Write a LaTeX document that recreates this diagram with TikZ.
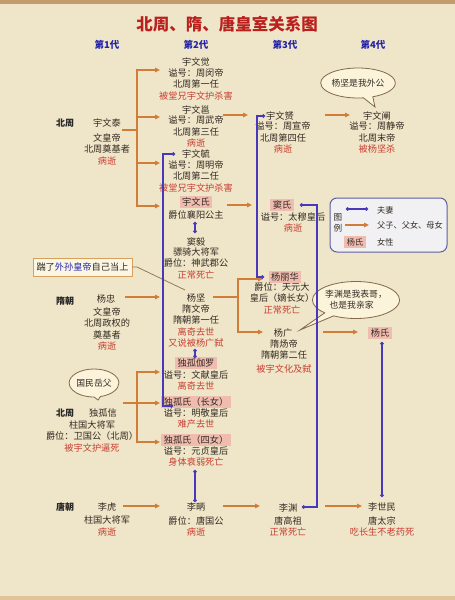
\documentclass[tikz,border=0pt]{standalone}
\usepackage{fontspec}
\setmainfont{Noto Sans CJK SC}
\usetikzlibrary{arrows.meta,shapes.callouts,shapes.geometric}
\definecolor{bgc}{RGB}{239,229,200}
\definecolor{topc}{RGB}{196,156,108}
\definecolor{botc}{RGB}{222,196,150}
\definecolor{txtc}{RGB}{50,42,35}
\definecolor{redc}{RGB}{200,62,50}
\definecolor{titc}{RGB}{185,32,30}
\definecolor{genc}{RGB}{35,35,170}
\definecolor{pinkc}{RGB}{240,188,176}
\definecolor{orc}{RGB}{210,125,55}
\definecolor{bluc}{RGB}{72,56,188}
\definecolor{bubd}{RGB}{130,105,75}
\definecolor{bubf}{RGB}{251,243,218}
\definecolor{boxd}{RGB}{214,160,95}
\definecolor{boxf}{RGB}{251,246,228}
\definecolor{legd}{RGB}{95,95,165}
\definecolor{legf}{RGB}{241,240,242}
\definecolor{clc}{RGB}{150,120,90}
\tikzset{
 t/.style={font=\fontsize{9.2}{11.5}\selectfont, text=txtc, inner sep=0pt, align=center},
 d/.style={t, anchor=north},
 pk/.style={t, fill=pinkc, inner xsep=2.5pt, inner ysep=1.8pt},
 era/.style={font=\fontsize{9}{11}\selectfont\bfseries, text=black!85, inner sep=0pt},
 gen/.style={font=\fontsize{9.5}{11}\selectfont\bfseries, text=genc, inner sep=0pt},
 ol/.style={draw=orc, line width=1.4pt},
 arr/.style={ol, -{Triangle[length=5pt,width=4.5pt]}},
 wed/.style={draw=bluc, line width=1.3pt, {Circle[length=3.4pt]}-{Circle[length=3.4pt]}},
 bub/.style={ellipse callout, draw=bubd, fill=bubf, line width=0.8pt, inner sep=0pt, font=\fontsize{8.8}{11}\selectfont, text=txtc, align=center},
 cl/.style={draw=clc, line width=0.8pt},
 lg/.style={t, font=\fontsize{8.2}{11}\selectfont},
}
\newcommand\rd[1]{{\color{redc}#1}}
\begin{document}
\begin{tikzpicture}[x=1pt,y=-1pt]
\useasboundingbox (0,0) rectangle (455,600);
\fill[bgc] (0,0) rectangle (455,600);
\fill[topc] (0,0) rectangle (455,4);
\fill[botc] (0,596) rectangle (455,600);

% title and headers
\node[font=\fontsize{16.5}{18}\selectfont\bfseries, text=titc, inner sep=0pt] (title) at (227,24) {北周、隋、唐皇室关系图};
\node[gen] (g1) at (107,45) {第1代};
\node[gen] (g2) at (196,45) {第2代};
\node[gen] (g3) at (285,45) {第3代};
\node[gen] (g4) at (373,45) {第4代};

% era labels
\node[era] (era1) at (65,123) {北周};
\node[era] (era2) at (65,301) {隋朝};
\node[era] (era3) at (65,413) {北周};
\node[era] (era4) at (65,507) {唐朝};

% generation 1
\node[t] (ywt) at (107,123) {宇文泰};
\node[d] (ywtd) at (107,133.4) {文皇帝\\北周奠基者\\\rd{病逝}};
\node[t] (yz) at (106,299) {杨忠};
\node[d] (yzd) at (107,307.4) {文皇帝\\北周政权的\\奠基者\\\rd{病逝}};
\node[t] (dgx) at (103,413) {独孤信};
\node[d] (dgxd) at (92,420.4) {柱国大将军\\爵位：卫国公（北周）\\\rd{被宇文护逼死}};
\node[t] (lh) at (107,507) {李虎};
\node[d] (lhd) at (107,516) {柱国大将军\\\rd{病逝}};

% generation 2
\node[t] (jue) at (196,62) {宇文觉};
\node[d] (jued) at (196,68.4) {谥号：周闵帝\\北周第一任\\\rd{被堂兄宇文护杀害}};
\node[t] (yong) at (196,110) {宇文邕};
\node[d] (yongd) at (196,115.8) {谥号：周武帝\\北周第三任\\\rd{病逝}};
\node[t] (yu) at (196,154) {宇文毓};
\node[d] (yud) at (196,160.4) {谥号：周明帝\\北周第二任\\\rd{被堂兄宇文护杀害}};
\node[pk] (ywshi) at (196,202) {宇文氏};
\node[t] (ywshid) at (196,215) {爵位襄阳公主};
\node[t] (douyi) at (196,242) {窦毅};
\node[d] (douyid) at (196,247.4) {骠骑大将军\\爵位：神武郡公\\\rd{正常死亡}};
\node[t] (yj) at (196,298) {杨坚};
\node[d] (yjd) at (196,304.4) {隋文帝\\隋朝第一任\\\rd{离奇去世}\\\rd{又说被杨广弑}};
\node[pk] (jialuo) at (196,363) {独孤伽罗};
\node[d] (jialuod) at (196,370.4) {谥号：文献皇后\\\rd{离奇去世}};
\node[pk] (dg1) at (196,402) {独孤氏（长女）};
\node[d] (dg1d) at (196,408.4) {谥号：明敬皇后\\\rd{难产去世}};
\node[pk] (dg4) at (196,440) {独孤氏（四女）};
\node[d] (dg4d) at (196,446.4) {谥号：元贞皇后\\\rd{身体衰弱死亡}};
\node[t] (lib) at (196,507) {李昞};
\node[d] (libd) at (196,516) {爵位：唐国公\\\rd{病逝}};

% generation 3
\node[t] (yun) at (280,116) {宇文赟};
\node[d] (yund) at (283,121.8) {谥号：周宣帝\\北周第四任\\\rd{病逝}};
\node[pk] (doushi) at (282,205) {窦氏};
\node[d] (doushid) at (293,212.4) {谥号：太穆皇后\\\rd{病逝}};
\node[pk] (ylh) at (285,277) {杨丽华};
\node[d] (ylhd) at (282,282.4) {爵位：天元大\\皇后（嫡长女）\\\rd{正常死亡}};
\node[t] (yg) at (283,333) {杨广};
\node[d] (ygd) at (284,339.4) {隋炀帝\\隋朝第二任\\[2pt]\rd{被宇文化及弑}};
\node[t] (ly) at (288,508) {李渊};
\node[d] (lyd) at (288,516.4) {唐高祖\\\rd{正常死亡}};

% generation 4
\node[t] (ywc) at (377,116) {宇文阐};
\node[d] (ywcd) at (377,121.8) {谥号：周静帝\\北周末帝\\\rd{被杨坚杀}};
\node[pk] (ysh) at (380,333) {杨氏};
\node[t] (lsm) at (382,507) {李世民};
\node[d] (lsmd) at (382,516.4) {唐太宗\\\rd{吃长生不老药死}};

% speech bubbles
\node[bub, minimum width=63pt, minimum height=30pt, callout absolute pointer={(375,107)}] (bub1) at (358,83) {杨坚是我外公};
\node[bub, minimum width=75pt, minimum height=37pt, callout absolute pointer={(300,330)}] (bub2) at (356,300) {李渊是我表哥，\\也是我亲家\hspace*{1em}};
\node[bub, minimum width=43pt, minimum height=28pt, callout absolute pointer={(98,400)}] (bub3) at (94,383) {国民岳父};

% callout box
\node[t, draw=boxd, fill=boxf, line width=0.8pt, inner xsep=3.5pt, minimum height=18pt] (cbox) at (82.5,267) {踹了{\color{genc}外孙皇帝}自己当上};
\coordinate (cbend) at (137,267);
\coordinate (cbtip) at (185,290);
\draw[cl] (cbox.east) -- (cbend) -- (cbtip);

% legend
\node[draw=legd, fill=legf, rounded corners=7pt, line width=1pt, minimum width=117pt, minimum height=54pt, inner sep=0pt] (legend) at (388.5,225) {};
\node[t, font=\fontsize{8.6}{11}\selectfont] (lgt) at (338,222.5) {图\\例};
\coordinate (lg1a) at (346,209); \coordinate (lg1b) at (368,209);
\draw[wed] (lg1a) -- (lg1b);
\node[lg, anchor=west] (lg1t) at (377,210) {夫妻};
\coordinate (lg2a) at (345,225); \coordinate (lg2b) at (369,225);
\draw[arr] (lg2a) -- (lg2b);
\node[lg, anchor=west] (lg2t) at (377,225) {父子、父女、母女};
\node[pk, font=\fontsize{8.2}{11}\selectfont] (lg3) at (355,242) {杨氏};
\node[lg, anchor=west] (lg3t) at (377,242) {女性};

% ---- father/mother -> child connectors (orange)
\coordinate (c1s) at (122,130); \coordinate (c1b) at (137,130);
\coordinate (a_jue) at (160,70); \coordinate (a_yong) at (160,117);
\coordinate (a_yu) at (160,163); \coordinate (a_ywshi) at (160,206);
\draw[ol] (c1s) -- (c1b);
\draw[arr] (c1b) |- (a_jue);
\draw[arr] (c1b) |- (a_yong);
\draw[arr] (c1b) |- (a_yu);
\draw[arr] (c1b) |- (a_ywshi);

\coordinate (c2s) at (223,115); \coordinate (c2e) at (248,115);
\draw[arr] (c2s) -- (c2e);
\coordinate (c3s) at (325,115); \coordinate (c3e) at (350,115);
\draw[arr] (c3s) -- (c3e);
\coordinate (c4s) at (227,205); \coordinate (c4e) at (252,205);
\draw[arr] (c4s) -- (c4e);
\coordinate (c5s) at (125,297); \coordinate (c5e) at (160,297);
\draw[arr] (c5s) -- (c5e);

\coordinate (c6s) at (213,297); \coordinate (c6b) at (238,297);
\coordinate (a_ylh) at (263,279); \coordinate (a_yg) at (263,332);
\draw[ol] (c6s) -- (c6b);
\draw[arr] (c6b) |- (a_ylh);
\draw[arr] (c6b) |- (a_yg);

\coordinate (c7s) at (323,332); \coordinate (c7e) at (358,332);
\draw[arr] (c7s) -- (c7e);

\coordinate (c8s) at (123,403); \coordinate (c8b) at (137,403);
\coordinate (a_jl) at (160,372); \coordinate (a_dg1) at (160,403); \coordinate (a_dg4) at (160,442);
\draw[ol] (c8s) -- (c8b);
\draw[arr] (c8b) |- (a_jl);
\draw[arr] (c8b) -- (a_dg1);
\draw[arr] (c8b) |- (a_dg4);

\coordinate (c9s) at (123,506); \coordinate (c9e) at (160,506);
\draw[arr] (c9s) -- (c9e);
\coordinate (c10s) at (223,506); \coordinate (c10e) at (260,506);
\draw[arr] (c10s) -- (c10e);
\coordinate (c11s) at (325,506); \coordinate (c11e) at (362,506);
\draw[arr] (c11s) -- (c11e);

% ---- marriages (blue)
\coordinate (w1a) at (175,154); \coordinate (w1b) at (173,406);
\draw[wed] (w1a) -- (163,154) -- (163,406) -- (w1b);
\coordinate (w2a) at (195,222); \coordinate (w2b) at (195,233);
\draw[wed] (w2a) -- (w2b);
\coordinate (w3a) at (195,349); \coordinate (w3b) at (195,358);
\draw[wed] (w3a) -- (w3b);
\coordinate (w4a) at (195,470); \coordinate (w4b) at (195,502);
\draw[wed] (w4a) -- (w4b);
\coordinate (w5a) at (265,116); \coordinate (w5b) at (264,277);
\draw[wed] (w5a) -- (257,116) -- (257,277) -- (w5b);
\coordinate (w6a) at (300,205); \coordinate (w6b) at (302,507);
\draw[wed] (w6a) -- (317,205) -- (317,507) -- (w6b);
\coordinate (w7a) at (382,342); \coordinate (w7b) at (382,497);
\draw[wed] (w7a) -- (w7b);
\end{tikzpicture}
\end{document}
